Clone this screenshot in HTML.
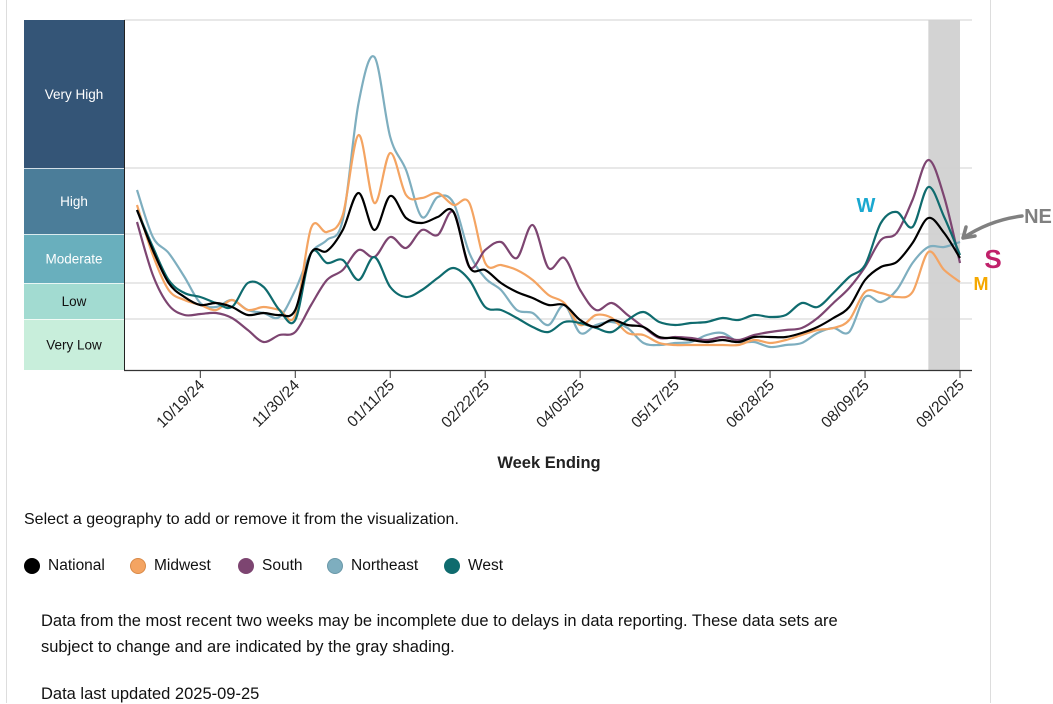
<!DOCTYPE html>
<html><head><meta charset="utf-8">
<style>
body{margin:0;width:1053px;height:703px;overflow:hidden;background:#fff;font-family:"Liberation Sans",sans-serif;position:relative}
.txt{position:absolute;color:#111;font-size:16px}
.leg{position:absolute;top:557px;display:flex;align-items:center;font-size:15.5px;color:#111;cursor:pointer}
.leg i{display:inline-block;width:16px;height:16px;border-radius:50%;margin-right:8px;box-sizing:border-box}
</style></head><body>
<div style="position:absolute;left:6px;top:0;width:1px;height:703px;background:#ddd"></div>
<div style="position:absolute;left:990px;top:0;width:1px;height:703px;background:#ddd"></div>
<svg id="chart" width="1053" height="480" style="position:absolute;left:0;top:0;font-family:'Liberation Sans',sans-serif"></svg>
<div class="txt" style="left:24px;top:511px">Select a geography to add or remove it from the visualization.</div>
<div class="leg" style="left:24px"><i style="background:#000"></i>National</div>
<div class="leg" style="left:130px"><i style="background:#f4a462;border:1px solid #d98a48"></i>Midwest</div>
<div class="leg" style="left:238px"><i style="background:#7d4571"></i>South</div>
<div class="leg" style="left:327px"><i style="background:#7eaebf;border:1px solid #6a98a8"></i>Northeast</div>
<div class="leg" style="left:444px"><i style="background:#0f6b6e"></i>West</div>
<div class="txt" style="left:41px;top:608px;line-height:26px;width:840px;font-size:16.5px">Data from the most recent two weeks may be incomplete due to delays in data reporting. These data sets are subject to change and are indicated by the gray shading.</div>
<div class="txt" style="left:41px;top:685px;font-size:16.5px">Data last updated 2025-09-25</div>
<script>
const weeks = 53;
const tickLabels = ["10/19/24","11/30/24","01/11/25","02/22/25","04/05/25","05/17/25","06/28/25","08/09/25","09/20/25"];
const tickWeeks = [4,10,16,22,28,34,40,46,52];
const levelNames = ["Very Low","Low","Moderate","High","Very High"];
const levelBounds = [0,51,87,136,202,350];
const national = [160,120,87,73,65,67,63,55,57,55,60,117,119,140,177,140,174,152,147,153,158,103,100,87,78,72,65,65,50,43,50,45,43,33,32,30,28,30,28,33,33,33,37,43,52,63,90,103,108,127,152,137,112];
const midwest = [165,115,80,70,65,60,70,60,63,60,55,142,138,155,235,167,217,175,172,177,165,167,107,105,100,90,75,67,45,55,52,37,35,27,25,25,25,25,25,30,27,30,35,40,42,50,78,77,73,78,118,100,88];
const south = [148,95,65,55,56,57,52,40,28,35,38,65,90,100,120,113,133,122,140,135,158,103,120,128,112,145,102,112,80,60,67,55,43,32,33,32,30,33,30,35,38,40,42,52,67,82,103,130,137,170,210,173,107];
const northeast = [180,133,117,93,67,63,70,60,57,53,80,117,130,150,267,313,233,200,153,173,167,117,92,80,60,57,45,65,37,45,48,42,27,25,27,28,35,37,28,28,23,25,27,37,42,38,73,68,80,107,123,123,128];
const west = [160,123,90,77,73,67,63,87,83,60,50,117,107,110,90,113,83,73,80,92,102,90,63,60,52,43,38,48,47,42,38,50,58,48,45,47,48,52,50,55,53,55,67,63,77,93,105,147,158,143,183,153,115];

const svg=document.getElementById('chart');
const NS='http://www.w3.org/2000/svg';
const X0=137,X1=960,YB=370,YT=20,VMAX=350;
const xs=w=>X0+(X1-X0)*w/(weeks-1);
const ys=v=>YB-(YB-YT)*v/VMAX;
function mk(tag,attrs,parent){const e=document.createElementNS(NS,tag);for(const k in attrs)e.setAttribute(k,attrs[k]);(parent||svg).appendChild(e);return e;}

let sh=mk('rect',{x:xs(weeks-3),y:YT,width:xs(weeks-1)-xs(weeks-3),height:YB-YT,fill:'#d3d3d3'});



const bandColors=["#c8eedb","#a2dbd1","#69afbd","#4b7d99","#345577"];
const bandText=["#111","#111","#fff","#fff","#fff"];
for(let i=0;i<5;i++){
  const yt=ys(levelBounds[i+1]),yb=ys(levelBounds[i]);
  let r=mk('rect',{x:24,y:yt,width:100,height:yb-yt,fill:bandColors[i]});
  
  
  if(i<4){mk('line',{x1:24,x2:124,y1:yt,y2:yt,stroke:'#fff','stroke-width':1.5});}
  let t=mk('text',{x:74,y:(yt+yb)/2+5,'text-anchor':'middle','font-size':13.5,fill:bandText[i]});
  t.textContent=levelNames[i];
  
  
  let g=mk('line',{x1:124,x2:972,y1:yt,y2:yt,stroke:'#d0d0d0','stroke-width':1});
  
  
}
let ya=mk('line',{x1:124.5,x2:124.5,y1:YT,y2:YB,stroke:'#222','stroke-width':1});


let xa=mk('line',{x1:124,x2:972,y1:YB+0.5,y2:YB+0.5,stroke:'#333','stroke-width':1.2});


tickWeeks.forEach((w,i)=>{
  const x=xs(w);
  mk('line',{x1:x,x2:x,y1:YB,y2:YB+8,stroke:'#333','stroke-width':1});
  let t=mk('text',{x:x+5,y:YB+16,'text-anchor':'end','font-size':15.5,fill:'#222',transform:`rotate(-45 ${x+5} ${YB+16})`});
  t.textContent=tickLabels[i];
  
  
});
let xt=mk('text',{x:549,y:468,'text-anchor':'middle','font-size':16.5,'font-weight':'bold',fill:'#222'});
xt.textContent='Week Ending';



function path(vals){
  const p=vals.map((v,i)=>[xs(i),ys(v)]);
  let d=`M${p[0][0]},${p[0][1]}`;
  for(let i=0;i<p.length-1;i++){
    const a=p[i-1]||p[i],b=p[i],c=p[i+1],e=p[i+2]||c;
    d+=`C${b[0]+(c[0]-a[0])/6},${b[1]+(c[1]-a[1])/6} ${c[0]-(e[0]-b[0])/6},${c[1]-(e[1]-b[1])/6} ${c[0]},${c[1]}`;
  }
  return d;
}
const series=[["northeast",northeast,"#7eaebf"],["midwest",midwest,"#f4a462"],["south",south,"#7d4571"],["west",west,"#0f6b6e"],["national",national,"#000"]];
series.forEach(s=>{
  let l=mk('path',{d:path(s[1]),fill:'none',stroke:s[2],'stroke-width':2.2});
  
  
});
const ann=[["W",866,212,"#1aa8d0",20,"annotation-west"],["NE",1038,223,"#808080",20,"annotation-northeast"],["S",993,268,"#c0206a",26,"annotation-south"],["M",981,290,"#f5a800",18,"annotation-midwest"]];
ann.forEach(a=>{
  let t=mk('text',{x:a[1],y:a[2],'text-anchor':'middle','font-size':a[4],'font-weight':'bold',fill:a[3]});
  t.textContent=a[0];
  
  
});
let ar=mk('path',{d:'M1022,216 Q990,220 963,238 M963,238 l12,-2 M963,238 l3,-11',fill:'none',stroke:'#808080','stroke-width':3.5,'stroke-linecap':'round'});


</script>
</body></html>
